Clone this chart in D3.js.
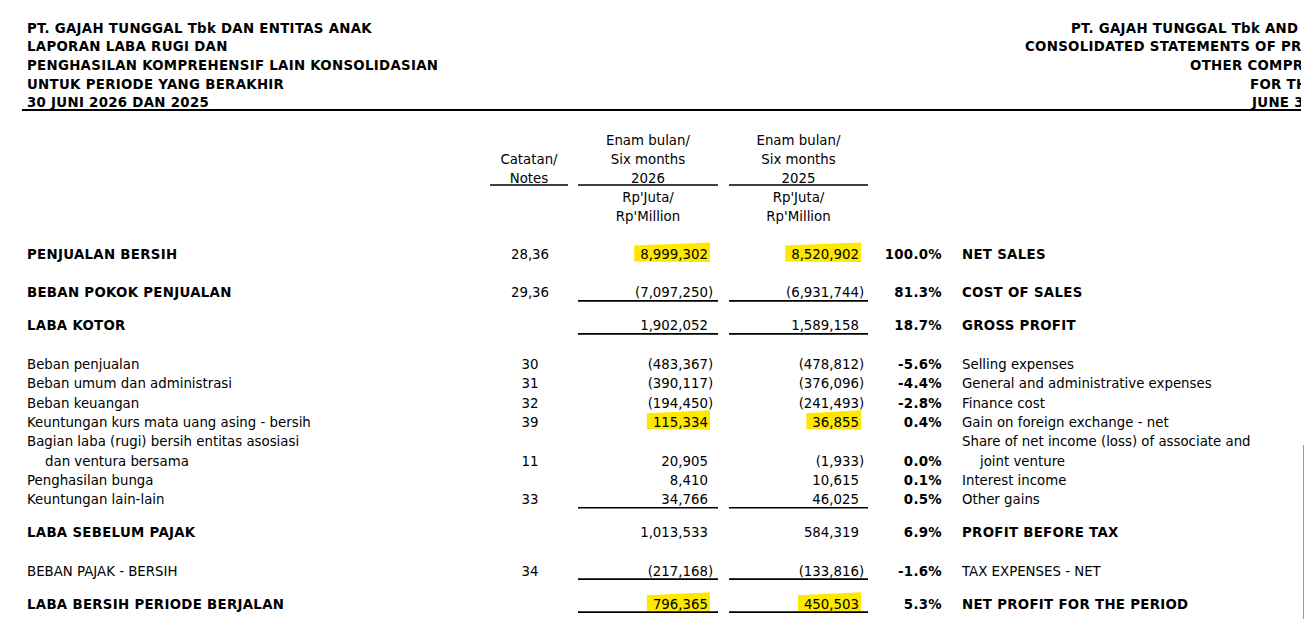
<!DOCTYPE html>
<html><head><meta charset="utf-8">
<script src="https://cdn.jsdelivr.net/npm/d3@7"></script>
<style>
body{margin:0;background:#fff;overflow:hidden}
svg{display:block}
text{font-family:"DejaVu Sans",Verdana,sans-serif;fill:#000;font-size:13.33px}
.b{font-weight:bold;letter-spacing:0.3px}
</style>
</head><body><svg id="c" width="1305" height="619"></svg>
<script>
// ---------- data ----------
const titleId = ["PT. GAJAH TUNGGAL Tbk DAN ENTITAS ANAK","LAPORAN LABA RUGI DAN","PENGHASILAN KOMPREHENSIF LAIN KONSOLIDASIAN","UNTUK PERIODE YANG BERAKHIR","30 JUNI 2026 DAN 2025"];
// English title as visible in the (right-cropped) reference
const titleEn = ["PT. GAJAH TUNGGAL Tbk AND S","CONSOLIDATED STATEMENTS OF PRO","OTHER COMPRE","FOR THE","JUNE 30"];
const notesHeader = ["Catatan/","Notes"];
const header2026 = ["Enam bulan/","Six months","2026","Rp'Juta/","Rp'Million"];
const header2025 = ["Enam bulan/","Six months","2025","Rp'Juta/","Rp'Million"];

const categoriesId = ["PENJUALAN BERSIH","BEBAN POKOK PENJUALAN","LABA KOTOR","Beban penjualan","Beban umum dan administrasi","Beban keuangan","Keuntungan kurs mata uang asing - bersih","Bagian laba (rugi) bersih entitas asosiasi","dan ventura bersama","Penghasilan bunga","Keuntungan lain-lain","LABA SEBELUM PAJAK","BEBAN PAJAK - BERSIH","LABA BERSIH PERIODE BERJALAN"];
const categoriesEn = ["NET SALES","COST OF SALES","GROSS PROFIT","Selling expenses","General and administrative expenses","Finance cost","Gain on foreign exchange - net","Share of net income (loss) of associate and","joint venture","Interest income","Other gains","PROFIT BEFORE TAX","TAX EXPENSES - NET","NET PROFIT FOR THE PERIOD"];
const notes = ["28,36","29,36","","30","31","32","39","","11","","33","","34",""];
const values2026 = [8999302,-7097250,1902052,-483367,-390117,-194450,115334,null,20905,8410,34766,1013533,-217168,796365];
const values2025 = [8520902,-6931744,1589158,-478812,-376096,-241493,36855,null,-1933,10615,46025,584319,-133816,450503];
const percentOfSales = [100.0,81.3,18.7,-5.6,-4.4,-2.8,0.4,null,0.0,0.1,0.5,6.9,-1.6,5.3];
const rowKind = ["total","total","total","detail","detail","detail","detail","detail","wrap","detail","detail","total","tax","total"];
const underlined = [false,true,true,false,false,false,false,false,false,false,true,false,true,true];
const highlighted = [true,false,false,false,false,false,true,false,false,false,false,false,false,true];

// ---------- layout ----------
const svg = d3.select("#c");
const W = 1305, H = 619;
svg.append("defs").append("clipPath").attr("id","clip").append("rect").attr("x",0).attr("y",0).attr("width",1301).attr("height",H);
const root = svg.append("g").attr("clip-path","url(#clip)");
const hlLayer = root.append("g");
const g = root.append("g");

// title
const titleY = d3.scaleLinear().domain([0,4]).range([32.7,107.3]);
g.selectAll("text.tid").data(titleId).join("text").attr("class","b tid")
  .attr("x",27).attr("y",(d,i)=>titleY(i)).text(d=>d);
const enStarts = [1071,1025,1190,1250,1252];
g.selectAll("text.ten").data(titleEn).join("text").attr("class","b ten")
  .attr("x",(d,i)=>enStarts[i]).attr("y",(d,i)=>titleY(i)).text(d=>d);
root.append("line").attr("x1",22).attr("x2",1301).attr("y1",110).attr("y2",110)
  .attr("stroke","#000").attr("stroke-width",2.2);

// columns
const colX = d3.scaleOrdinal()
  .domain(["id","notes","v2026","v2025","pct","en"])
  .range([27,530,708,859,942,962]);
const colSpan = {notes:[490,568], v2026:[578,718], v2025:[729,868]};

// column headers
const hy = d3.scaleLinear().domain([0,4]).range([145,220.5]);
g.selectAll("text.nh").data(notesHeader).join("text").attr("class","nh")
  .attr("x",(colSpan.notes[0]+colSpan.notes[1])/2).attr("y",(d,i)=>hy(i+1))
  .attr("text-anchor","middle").text(d=>d);
[["v2026",header2026],["v2025",header2025]].forEach(([k,arr])=>{
  g.selectAll("text.h"+k).data(arr).join("text").attr("class","h"+k)
    .attr("x",(colSpan[k][0]+colSpan[k][1])/2).attr("y",(d,i)=>hy(i))
    .attr("text-anchor","middle").text(d=>d);
});
Object.values(colSpan).forEach(s=>{
  root.append("line").attr("x1",s[0]).attr("x2",s[1]).attr("y1",185).attr("y2",185)
    .attr("stroke","#000").attr("stroke-width",1.6);
});

// row baselines
const ys = [];
rowKind.forEach((k,i)=>{
  if(i===0){ys.push(259);return;}
  const pk = rowKind[i-1];
  const small = (pk==="detail"||pk==="wrap") && (k==="detail"||k==="wrap");
  let gap;
  if(small) gap = 19.35;
  else if(underlined[i-1] && (k==="total"||k==="tax")) gap = 33;
  else gap = 38.4;
  ys.push(ys[i-1]+gap);
});
const y = d3.scaleOrdinal().domain(d3.range(rowKind.length)).range(ys);

const fmt = d3.format(",");
const fmtPct = p => (p<0?"-":"") + d3.format(".1f")(Math.abs(p)) + "%";
const rows = categoriesId.map((c,i)=>({i,c,en:categoriesEn[i],note:notes[i],v26:values2026[i],v25:values2025[i],p:percentOfSales[i],k:rowKind[i],u:underlined[i],h:highlighted[i]}));

rows.forEach(r=>{
  const bold = r.k==="total";
  const yy = y(r.i);
  g.append("text").attr("class",bold?"b":null)
    .attr("x",colX("id")+(r.k==="wrap"?18:0)).attr("y",yy).text(r.c);
  g.append("text").attr("class",bold?"b":null)
    .attr("x",colX("en")+(r.k==="wrap"?18:0)).attr("y",yy).text(r.en);
  if(r.note) g.append("text").attr("x",colX("notes")).attr("y",yy).attr("text-anchor","middle").text(r.note);
  [["v2026",r.v26],["v2025",r.v25]].forEach(([k,v])=>{
    if(v===null) return;
    const t = g.append("text").attr("x",colX(k)).attr("y",yy).attr("text-anchor","end")
      .text(v<0?"("+fmt(-v):fmt(v));
    if(v<0) g.append("text").attr("x",colX(k)).attr("y",yy).text(")");
    if(r.h){
      const bb = t.node().getBBox();
      const x0 = bb.x-6, x1 = bb.x+bb.width+2, top = yy-16, bot = yy+2.5;
      hlLayer.append("path")
        .attr("d",`M${x0},${top+2.5} L${x1},${top-0.5} L${x1},${bot+0.5} L${x0},${bot} Z`)
        .attr("fill","#ffe800");
    }
  });
  if(r.p!==null) g.append("text").attr("class","b").attr("x",colX("pct")).attr("y",yy)
    .attr("text-anchor","end").text(fmtPct(r.p));
  if(r.u){
    ["v2026","v2025"].forEach(k=>{
      root.append("line").attr("x1",colSpan[k][0]).attr("x2",colSpan[k][1])
        .attr("y1",yy+3.5).attr("y2",yy+3.5).attr("stroke","#000").attr("stroke-width",1.6);
    });
  }
});

// right edge frame line
svg.append("line").attr("x1",1303.5).attr("x2",1303.5).attr("y1",445).attr("y2",H)
  .attr("stroke","#9a9a9a").attr("stroke-width",1);
</script>
</body></html>
